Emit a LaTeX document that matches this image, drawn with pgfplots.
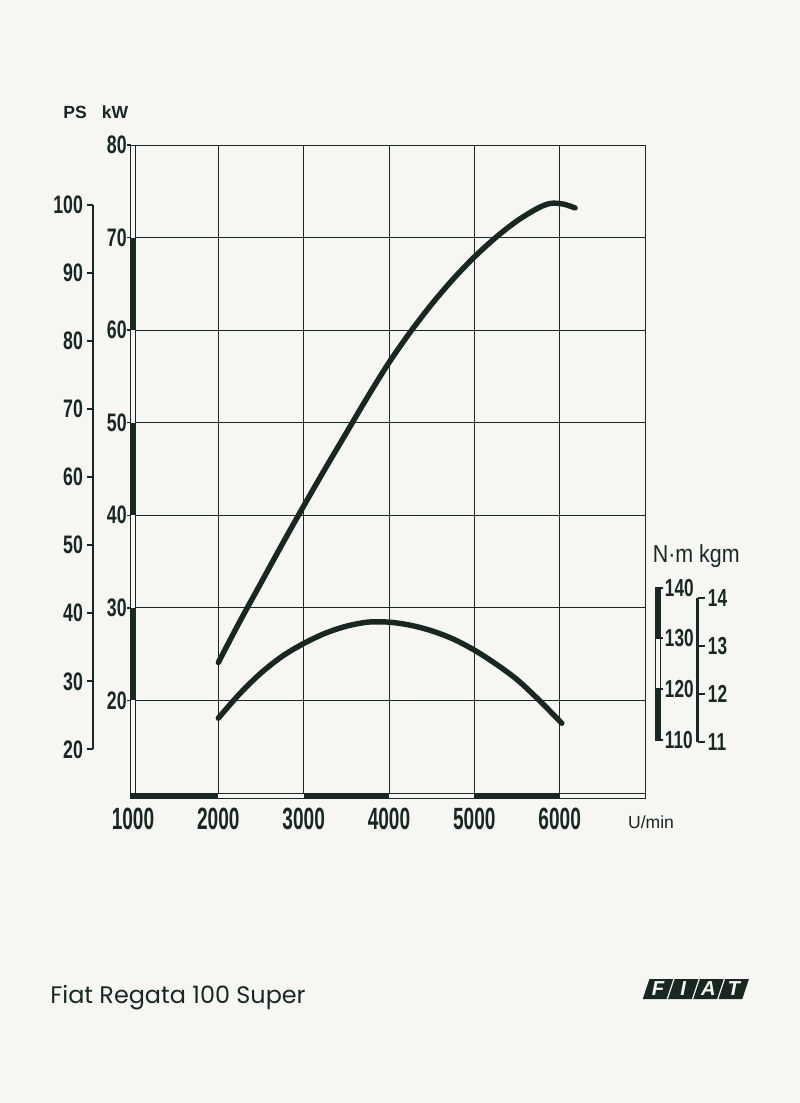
\documentclass[border=0pt]{standalone}
\usepackage{pgfplots}
\pgfplotsset{compat=1.18}
\usepackage{fontspec}
\setmainfont{Liberation Sans}
\newfontfamily\condx[FakeStretch=0.62]{Liberation Sans}
\newfontfamily\condy[FakeStretch=0.7]{Liberation Sans}
\newfontfamily\unitfont[FakeStretch=0.87]{Liberation Sans}
\newfontfamily\titlefont{Poppins}
\definecolor{ink}{RGB}{24,40,32}
\definecolor{paper}{RGB}{246,246,242}

% PS scale tick: kW position, label
\newcommand{\pstick}[2]{%
  \draw[ink, line width=1.2pt] ([xshift=-0.8cm]axis cs:1000,#1) -- ([xshift=-0.92cm]axis cs:1000,#1)
    node[anchor=east, inner sep=0pt, xshift=-0.06cm, text=ink,
         font=\condy\bfseries\fontsize{14.4}{15}\selectfont] {#2};}
% Nm scale tick
\newcommand{\nmtick}[1]{%
  \draw[ink, line width=1.1pt] ([xshift=0.2cm]axis cs:7000,#1) -- ([xshift=0.36cm]axis cs:7000,#1)
    node[anchor=west, inner sep=0pt, xshift=0.02cm, text=ink,
         font=\condy\bfseries\fontsize{14}{15}\selectfont] {#1};}
% kgm scale tick: Nm position, label
\newcommand{\kgtick}[2]{%
  \draw[ink, line width=1.1pt] ([xshift=1.054cm]axis cs:7000,#1) -- ([xshift=1.2cm]axis cs:7000,#1)
    node[anchor=west, inner sep=0pt, xshift=0.04cm, text=ink,
         font=\condy\bfseries\fontsize{14}{15}\selectfont] {#2};}

\begin{document}
\begin{tikzpicture}
\fill[paper] (-2.66,-6.2) rectangle (13.34,15.86);

% power, kW
\begin{axis}[
  at={(0,0)}, anchor=south west,
  scale only axis, width=10.24cm, height=12.96cm,
  xmin=1000, xmax=7000, ymin=10, ymax=80,
  xtick={1000,2000,3000,4000,5000,6000},
  xticklabels={1000,2000,3000,4000,5000,6000},
  ytick={20,30,40,50,60,70,80},
  yticklabels={20,30,40,50,60,70,80},
  major tick length=0pt,
  xmajorgrids, ymajorgrids,
  grid style={ink, line width=0.5pt},
  axis line style={draw=none},
  xticklabel style={font=\condx\bfseries\fontsize{17.5}{18}\selectfont, text=ink,
    inner sep=0pt, anchor=north, yshift=-0.3cm},
  yticklabel style={font=\condy\bfseries\fontsize{14.4}{15}\selectfont, text=ink,
    inner sep=0pt, anchor=east, xshift=-0.12cm},
  clip=false,
]
\addplot[ink, line width=3.1pt, line cap=round, smooth, tension=0.5] coordinates {
  (2000,24.1) (2250,28.5) (2500,32.7) (2750,36.9) (3000,41.0) (3250,45.0)
  (3500,48.9) (3750,52.8) (4000,56.5) (4250,59.8) (4500,62.8) (4750,65.5)
  (5000,67.9) (5250,70.0) (5500,71.8) (5750,73.2) (5900,73.7) (6050,73.6)
  (6180,73.2)
};

% left kW bar
\fill[paper] ([xshift=-0.045cm]axis cs:1000,10) rectangle ([xshift=0.045cm]axis cs:1000,80);
\fill[ink] ([xshift=-0.045cm]axis cs:1000,20) rectangle ([xshift=0.045cm]axis cs:1000,30);
\fill[ink] ([xshift=-0.045cm]axis cs:1000,40) rectangle ([xshift=0.045cm]axis cs:1000,50);
\fill[ink] ([xshift=-0.045cm]axis cs:1000,60) rectangle ([xshift=0.045cm]axis cs:1000,70);
\draw[ink, line width=0.5pt] ([xshift=-0.045cm]axis cs:1000,10) rectangle ([xshift=0.045cm]axis cs:1000,80);
\pgfplotsinvokeforeach{20,30,40,50,60,70,80}{
  \draw[ink, line width=0.8pt] ([xshift=-0.12cm]axis cs:1000,#1) -- ([xshift=-0.045cm]axis cs:1000,#1);
}

% bottom rpm bar
\fill[paper] ([xshift=-0.045cm, yshift=-0.1cm]axis cs:1000,10) rectangle (axis cs:7000,10);
\fill[ink] ([xshift=-0.045cm, yshift=-0.1cm]axis cs:1000,10) rectangle (axis cs:2000,10);
\fill[ink] ([yshift=-0.1cm]axis cs:3000,10) rectangle (axis cs:4000,10);
\fill[ink] ([yshift=-0.1cm]axis cs:5000,10) rectangle (axis cs:6000,10);
\draw[ink, line width=0.5pt] ([xshift=-0.045cm, yshift=-0.1cm]axis cs:1000,10) rectangle (axis cs:7000,10);
\draw[ink, line width=0.5pt] ([yshift=-0.1cm]axis cs:7000,10) -- (axis cs:7000,80);

% PS scale
\draw[ink, line width=1.5pt] ([xshift=-0.8cm]axis cs:1000,14.71) -- ([xshift=-0.8cm]axis cs:1000,73.55);
\pstick{14.71}{20}
\pstick{22.065}{30}
\pstick{29.42}{40}
\pstick{36.775}{50}
\pstick{44.13}{60}
\pstick{51.485}{70}
\pstick{58.84}{80}
\pstick{66.195}{90}
\pstick{73.55}{100}
\end{axis}

% torque, N m
\begin{axis}[
  at={(0,0)}, anchor=south west,
  scale only axis, width=10.24cm, height=12.96cm,
  xmin=1000, xmax=7000, ymin=99.57, ymax=227.13,
  hide axis, clip=false,
]
\addplot[ink, line width=3.1pt, line cap=round, smooth, tension=0.5] coordinates {
  (2000,114.3) (2250,119.1) (2500,123.2) (2750,126.5) (3000,129.0) (3250,131.0)
  (3500,132.4) (3750,133.2) (4000,133.2) (4250,132.6) (4500,131.5) (4750,129.9)
  (5000,127.7) (5250,125.0) (5500,121.9) (5750,118.0) (6025,113.3)
};

% Nm scale
\fill[paper] ([xshift=0.2cm]axis cs:7000,110) rectangle ([xshift=0.3cm]axis cs:7000,140);
\fill[ink] ([xshift=0.2cm]axis cs:7000,130) rectangle ([xshift=0.3cm]axis cs:7000,140);
\fill[ink] ([xshift=0.2cm]axis cs:7000,110) rectangle ([xshift=0.3cm]axis cs:7000,120);
\draw[ink, line width=0.5pt] ([xshift=0.2cm]axis cs:7000,110) rectangle ([xshift=0.3cm]axis cs:7000,140);
\nmtick{110}
\nmtick{120}
\nmtick{130}
\nmtick{140}

% kgm scale
\draw[ink, line width=1.5pt] ([xshift=1.054cm]axis cs:7000,109.6) -- ([xshift=1.054cm]axis cs:7000,137.89);
\kgtick{109.6}{11}
\kgtick{119.03}{12}
\kgtick{128.46}{13}
\kgtick{137.89}{14}
\end{axis}

% unit labels
\node[anchor=base, text=ink, font=\bfseries\fontsize{10}{12}\selectfont] at (-1.16,13.48) {PS};
\node[anchor=base, text=ink, font=\bfseries\fontsize{10}{12}\selectfont] at (-0.36,13.48) {kW};
\node[anchor=base, text=ink, font=\fontsize{10}{12}\selectfont] at (10.36,-0.7) {U/min};
\node[anchor=base west, inner sep=0pt, text=ink, font=\unitfont\fontsize{14}{16}\selectfont] at (10.39,4.6) {N·m kgm};

% title
\node[anchor=base west, inner sep=0pt, text=ink, font=\titlefont\fontsize{13.6}{15}\selectfont] at (-1.66,-4.2) {Fiat Regata 100 Super};

% FIAT logo
\foreach \l [count=\i from 0] in {F,I,A,T} {
  \fill[ink] ({10.195+\i*0.505},-4.12) -- ++(0.475,0) -- ++(0.134,0.4) -- ++(-0.475,0) -- cycle;
  \node[text=paper, inner sep=0pt, font=\bfseries\itshape\fontsize{11.5}{11.5}\selectfont]
    at ({10.195+\i*0.505+0.305},-3.92) {\l};
}

\pgfresetboundingbox
\path[use as bounding box] (-2.66,-6.2) rectangle (13.34,15.86);
\end{tikzpicture}
\end{document}
